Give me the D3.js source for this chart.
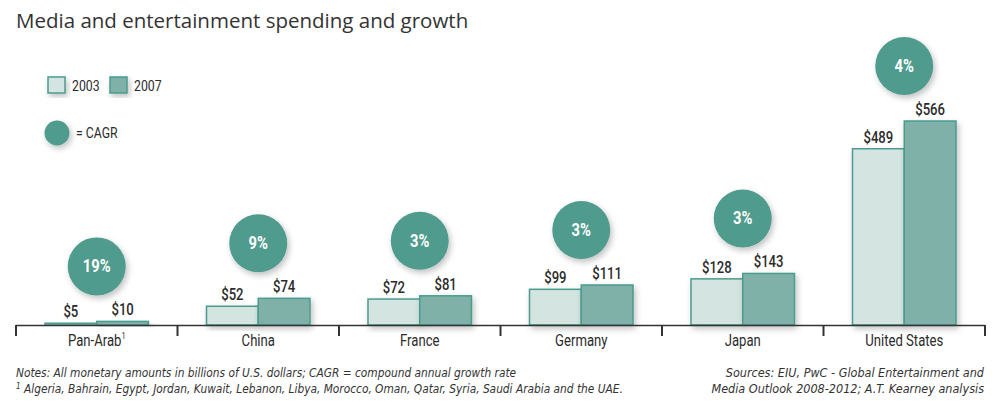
<!DOCTYPE html>
<html><head><meta charset="utf-8">
<script src="https://cdn.jsdelivr.net/npm/d3@7"></script>
<style>
body{margin:0;background:#fff;}
svg{display:block;}
</style></head>
<body>
<svg id="chart" width="1000" height="417"></svg>
<script>
const categories = ["Pan-Arab", "China", "France", "Germany", "Japan", "United States"];
const values2003 = [5, 52, 72, 99, 128, 489];
const values2007 = [10, 74, 81, 111, 143, 566];
const cagr = ["19%", "9%", "3%", "3%", "3%", "4%"];
const years = ["2003", "2007"];

const svg = d3.select("#chart");
const narrow = "'Liberation Sans Narrow','DejaVu Sans Condensed',sans-serif";
const cond = "Roboto,'Liberation Sans',sans-serif";
const SX = 0.82;
const colFill = {"2003":"#d4e4e0","2007":"#7fb1a8"};
const stroke = "#4a9c8e";
const circleCol = "#4f9b8d";

// condensed text helper: positioned group, horizontally squeezed text
function ctext(parent, x, y, str, opts) {
  const g = parent.append("g").attr("transform", `translate(${x},${y})`);
  const t = g.append("text").attr("transform", `scale(${SX},1)`)
    .attr("text-anchor", opts.anchor || "start")
    .attr("font-family", cond).attr("font-size", opts.size || 15)
    .attr("font-weight", opts.weight || 400).attr("fill", opts.fill || "#2b2b2b")
    .text(str);
  return t;
}

const defs = svg.append("defs");
const f = defs.append("filter").attr("id","sh").attr("x","-30%").attr("y","-30%").attr("width","160%").attr("height","160%");
f.append("feGaussianBlur").attr("in","SourceAlpha").attr("stdDeviation",3).attr("result","b");
f.append("feOffset").attr("in","b").attr("dx",2).attr("dy",3).attr("result","o");
f.append("feComponentTransfer").attr("in","o").attr("result","t").append("feFuncA").attr("type","linear").attr("slope",0.25);
const m = f.append("feMerge"); m.append("feMergeNode").attr("in","t"); m.append("feMergeNode").attr("in","SourceGraphic");

// title
svg.append("text").attr("x",16).attr("y",28).attr("font-family","'Open Sans',sans-serif").attr("font-size",20.5).attr("fill","#333")
  .text("Media and entertainment spending and growth");

const x = d3.scaleBand().domain(categories).range([16,985]).paddingInner(0).paddingOuter(0);
const x1 = d3.scaleBand().domain(years).range([29, x.bandwidth()-29]);
const y = d3.scaleLinear().domain([0,566]).range([325,121]);

const data = categories.map((c,i)=>({c, v:[values2003[i], values2007[i]], g:cagr[i]}));

const grp = svg.append("g").selectAll("g").data(data).join("g").attr("transform",d=>`translate(${x(d.c)},0)`);

grp.selectAll("rect").data(d=>d.v.map((v,j)=>({v,yr:years[j]}))).join("rect")
  .attr("x",d=>x1(d.yr)).attr("width",x1.bandwidth())
  .attr("y",d=>y(d.v)).attr("height",d=>y(0)-y(d.v))
  .attr("fill",d=>colFill[d.yr]).attr("stroke",stroke).attr("stroke-width",1.5)
  .attr("filter","url(#sh)");

const r = 29;
grp.each(function(d){
  const g = d3.select(this);
  d.v.forEach((v,j)=>{
    ctext(g, x1(years[j]) + x1.bandwidth()/2, y(v)-6, "$"+v, {anchor:"middle", size:16, weight:500});
  });
  const cy = y(d3.max(d.v)) - 26 - r;
  g.append("circle").attr("cx",x.bandwidth()/2).attr("cy",cy).attr("r",r)
    .attr("fill",circleCol).attr("filter","url(#sh)");
  ctext(g, x.bandwidth()/2, cy+6, d.g, {anchor:"middle", size:18, weight:700, fill:"#fff"});
});

// axis
const ax = svg.append("g");
ax.append("line").attr("x1",16).attr("x2",985).attr("y1",325.5).attr("y2",325.5).attr("stroke","#333").attr("stroke-width",1.5);
const tickPos = categories.map(c=>x(c)).concat([985]);
ax.selectAll("line.t").data(tickPos).join("line").attr("class","t")
  .attr("x1",d=>d).attr("x2",d=>d).attr("y1",325).attr("y2",336).attr("stroke","#333").attr("stroke-width",2);
categories.forEach(c=>{
  const t = ctext(ax, x(c)+x.bandwidth()/2, 346, c, {anchor:"middle", size:16});
  if (c==="Pan-Arab") t.append("tspan").attr("font-size",9).attr("dy",-7).text("1");
});

// legend
const lg = svg.append("g");
years.forEach((yr,i)=>{
  const lx = 48 + i*62;
  lg.append("rect").attr("x",lx).attr("y",77).attr("width",17).attr("height",16)
    .attr("fill",colFill[yr]).attr("stroke",stroke).attr("stroke-width",1.5).attr("filter","url(#sh)");
  ctext(lg, lx+24, 91, yr, {size:15});
});
lg.append("circle").attr("cx",57).attr("cy",133).attr("r",12.5).attr("fill",circleCol).attr("filter","url(#sh)");
ctext(lg, 76, 138, "= CAGR", {size:15});

// notes
const notes = svg.append("g").attr("font-family",narrow).attr("font-style","italic").attr("fill","#333");
notes.append("text").attr("x",16).attr("y",377).attr("font-size",11.8).text("Notes: All monetary amounts in billions of U.S. dollars; CAGR = compound annual growth rate");
const n2 = notes.append("text").attr("x",16).attr("y",393).attr("font-size",11.8);
n2.append("tspan").attr("font-size",8).attr("dy",-4).text("1");
n2.append("tspan").attr("dy",4).text("  Algeria, Bahrain, Egypt, Jordan, Kuwait, Lebanon, Libya, Morocco, Oman, Qatar, Syria, Saudi Arabia and the UAE.");
notes.append("text").attr("x",984).attr("y",377).attr("font-size",12.5).attr("text-anchor","end").text("Sources: EIU, PwC - Global Entertainment and");
notes.append("text").attr("x",984).attr("y",393).attr("font-size",12.5).attr("text-anchor","end").text("Media Outlook 2008-2012; A.T. Kearney analysis");
</script>
</body></html>
